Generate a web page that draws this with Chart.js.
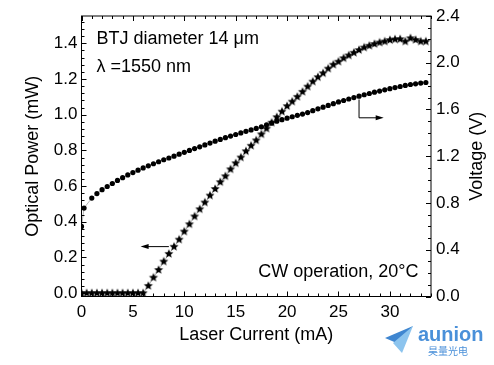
<!DOCTYPE html>
<html>
<head>
<script src="https://cdn.jsdelivr.net/npm/chart.js"></script>
<style>
  html, body { margin: 0; padding: 0; background: #fff; }
</style>
</head>
<body>
<canvas id="liv" width="494" height="365"></canvas>
<script>
// optical power (stars), every 0.5 mA
const currentP = [0, 0.5, 1, 1.5, 2, 2.5, 3, 3.5, 4, 4.5, 5, 5.5, 6, 6.5, 7, 7.5, 8, 8.5, 9, 9.5,
  10, 10.5, 11, 11.5, 12, 12.5, 13, 13.5, 14, 14.5, 15, 15.5, 16, 16.5, 17, 17.5, 18, 18.5, 19, 19.5,
  20, 20.5, 21, 21.5, 22, 22.5, 23, 23.5, 24, 24.5, 25, 25.5, 26, 26.5, 27, 27.5, 28, 28.5, 29, 29.5,
  30, 30.5, 31, 31.5, 32, 32.5, 33, 33.5];
const power = [0, 0, 0, 0, 0, 0, 0, 0, 0, 0, 0, 0, 0, 0.041, 0.087, 0.13, 0.177, 0.22, 0.26, 0.30,
  0.345, 0.386, 0.43, 0.47, 0.508, 0.547, 0.584, 0.622, 0.655, 0.694, 0.728, 0.76, 0.795, 0.826, 0.856, 0.89, 0.922, 0.955, 0.986, 1.017,
  1.048, 1.073, 1.10, 1.128, 1.157, 1.185, 1.21, 1.232, 1.258, 1.28, 1.297, 1.316, 1.332, 1.347, 1.362, 1.376, 1.386, 1.396, 1.404, 1.41,
  1.418, 1.422, 1.423, 1.41, 1.428, 1.419, 1.41, 1.41];

// voltage (circles)
const currentV = [0, 0.25, 1, 1.5, 2, 2.5, 3, 3.5, 4, 4.5, 5, 5.5, 6, 6.5, 7, 7.5, 8, 8.5, 9, 9.5,
  10, 10.5, 11, 11.5, 12, 12.5, 13, 13.5, 14, 14.5, 15, 15.5, 16, 16.5, 17, 17.5, 18, 18.5, 19, 19.5,
  20, 20.5, 21, 21.5, 22, 22.5, 23, 23.5, 24, 24.5, 25, 25.5, 26, 26.5, 27, 27.5, 28, 28.5, 29, 29.5,
  30, 30.5, 31, 31.5, 32, 32.5, 33, 33.5];
const voltage = [0.60, 0.757, 0.842, 0.881, 0.914, 0.941, 0.967, 0.993, 1.017, 1.04, 1.06, 1.081, 1.10, 1.118, 1.136, 1.153, 1.17, 1.185, 1.201, 1.218,
  1.234, 1.25, 1.266, 1.281, 1.297, 1.313, 1.329, 1.344, 1.359, 1.373, 1.386, 1.40, 1.413, 1.425, 1.438, 1.452, 1.468, 1.484, 1.50, 1.513,
  1.526, 1.538, 1.55, 1.561, 1.574, 1.59, 1.606, 1.62, 1.635, 1.65, 1.665, 1.677, 1.69, 1.702, 1.714, 1.726, 1.737, 1.748, 1.758, 1.768,
  1.778, 1.788, 1.797, 1.806, 1.814, 1.82, 1.826, 1.831];

const xTicks = [0, 5, 10, 15, 20, 25, 30];
const powerTicks = [0, 0.2, 0.4, 0.6, 0.8, 1.0, 1.2, 1.4];
const voltTicks = [0, 0.4, 0.8, 1.2, 1.6, 2.0, 2.4];

const FONT = 'Liberation Sans, Arial, sans-serif';
Chart.defaults.font.family = FONT;
Chart.defaults.color = '#000';

function makeStar(r) {
  const c = document.createElement('canvas');
  const s = Math.ceil(r * 2) + 2;
  c.width = c.height = s;
  const g = c.getContext('2d');
  g.beginPath();
  for (let k = 0; k < 10; k++) {
    const rad = k % 2 ? r * 0.45 : r;
    const a = -Math.PI / 2 + k * Math.PI / 5;
    g.lineTo(s / 2 + rad * Math.cos(a), s / 2 + rad * Math.sin(a));
  }
  g.closePath();
  g.fillStyle = '#000';
  g.fill();
  return c;
}
const star = makeStar(4.7);

function arrowHead(ctx, x, y, dir) {
  ctx.beginPath();
  ctx.moveTo(x, y);
  ctx.lineTo(x - dir * 8, y - 2.5);
  ctx.lineTo(x - dir * 8, y + 2.5);
  ctx.closePath();
  ctx.fill();
}

const decor = {
  id: 'decor',
  afterDraw(chart) {
    const ctx = chart.ctx;
    const a = chart.chartArea;
    const sx = chart.scales.x, sy = chart.scales.y, sv = chart.scales.y1;
    ctx.save();
    ctx.strokeStyle = '#000';
    ctx.fillStyle = '#000';
    ctx.lineWidth = 1;
    ctx.strokeRect(a.left, a.top, a.right - a.left, a.bottom - a.top);

    // inward ticks
    ctx.beginPath();
    for (let v = 0; v <= 34; v++) {
      const px = Math.round(sx.getPixelForValue(v)) + 0.5;
      const len = v % 5 === 0 ? 5 : 3;
      ctx.moveTo(px, a.bottom); ctx.lineTo(px, a.bottom - len);
      ctx.moveTo(px, a.top); ctx.lineTo(px, a.top + len);
    }
    for (let k = 0; k <= 38; k++) {
      const py = Math.round(sy.getPixelForValue(k * 0.04)) + 0.5;
      const len = k % 5 === 0 ? 5 : 3;
      ctx.moveTo(a.left, py); ctx.lineTo(a.left + len, py);
    }
    for (let k = 0; k <= 24; k++) {
      const py = Math.round(sv.getPixelForValue(k * 0.1)) + 0.5;
      const len = k % 4 === 0 ? 5 : 3;
      ctx.moveTo(a.right, py); ctx.lineTo(a.right - len, py);
    }
    ctx.stroke();

    // arrows
    const ly = sy.getPixelForValue(0.261);
    const lx0 = sx.getPixelForValue(8.5), lx1 = sx.getPixelForValue(5.75);
    ctx.beginPath(); ctx.moveTo(lx0, ly); ctx.lineTo(lx1 + 6, ly); ctx.stroke();
    arrowHead(ctx, lx1, ly, -1);
    const rx = sx.getPixelForValue(27), ry0 = sv.getPixelForValue(1.686), ry1 = sv.getPixelForValue(1.529);
    const rx1 = sx.getPixelForValue(29.4);
    ctx.beginPath(); ctx.moveTo(rx, ry0); ctx.lineTo(rx, ry1); ctx.lineTo(rx1 - 6, ry1); ctx.stroke();
    arrowHead(ctx, rx1, ry1, 1);

    // labels
    ctx.font = '18px ' + FONT;
    ctx.textBaseline = 'middle';
    ctx.textAlign = 'left';
    ctx.fillText('BTJ diameter 14 \u03bcm', a.left + 15, 39);
    ctx.fillText('\u03bb =1550 nm', a.left + 15, 67);
    ctx.textAlign = 'right';
    ctx.fillText('CW operation, 20\u00b0C', a.right - 12.5, 272);

    // right axis title
    ctx.save();
    ctx.translate(477, (a.top + a.bottom) / 2);
    ctx.rotate(-Math.PI / 2);
    ctx.textAlign = 'center';
    ctx.fillText('Voltage (V)', 0, 0);
    ctx.restore();

    // logo
    ctx.fillStyle = '#3f86d0';
    ctx.beginPath(); ctx.moveTo(385, 338); ctx.lineTo(413, 326); ctx.lineTo(399, 344); ctx.closePath(); ctx.fill();
    ctx.fillStyle = '#8cc4ee';
    ctx.beginPath(); ctx.moveTo(393, 343); ctx.lineTo(413, 326); ctx.lineTo(402, 353); ctx.closePath(); ctx.fill();
    ctx.fillStyle = '#4a90d9';
    ctx.textAlign = 'left';
    ctx.font = 'bold 20px ' + FONT;
    ctx.fillText('aunion', 418, 335);
    ctx.font = '10px "Noto Sans CJK SC"';
    ctx.fillText('\u660a\u91cf\u5149\u7535', 428, 351);
    ctx.restore();
  }
};

const noGrid = { display: false, drawTicks: false, tickLength: 0 };

new Chart(document.getElementById('liv'), {
  type: 'scatter',
  data: {
    datasets: [
      {
        label: 'Optical Power',
        data: currentP.map((x, i) => ({ x, y: power[i] })),
        yAxisID: 'y',
        showLine: true,
        borderColor: '#666',
        borderWidth: 0.5,
        pointStyle: star,
        pointRadius: 4,
        backgroundColor: '#000'
      },
      {
        label: 'Voltage',
        data: currentV.map((x, i) => ({ x, y: voltage[i] })),
        yAxisID: 'y1',
        showLine: true,
        borderColor: '#666',
        borderWidth: 0.5,
        pointStyle: 'circle',
        pointRadius: 2.6,
        pointBorderWidth: 0,
        pointBackgroundColor: '#000'
      }
    ]
  },
  options: {
    responsive: false,
    animation: false,
    devicePixelRatio: 1,
    layout: { padding: { top: 16, left: 0, right: 0, bottom: 0 } },
    plugins: { legend: { display: false }, tooltip: { enabled: false } },
    scales: {
      x: {
        type: 'linear', position: 'bottom', min: 0, max: 34,
        afterBuildTicks: s => { s.ticks = xTicks.map(v => ({ value: v })); },
        afterFit: s => { s.height = 68.5; },
        grid: noGrid, border: { display: false },
        ticks: { font: { size: 17 }, color: '#000', padding: 6, maxRotation: 0 },
        title: { display: true, text: 'Laser Current (mA)', font: { size: 18 }, color: '#000', padding: { top: 0, bottom: 19 } }
      },
      y: {
        position: 'left', min: -0.0185, max: 1.553,
        afterBuildTicks: s => { s.ticks = powerTicks.map(v => ({ value: v })); },
        afterFit: s => { s.width = 81.5; },
        grid: noGrid, border: { display: false },
        ticks: { font: { size: 17 }, color: '#000', padding: 4, callback: v => v.toFixed(1) },
        title: { display: true, text: 'Optical Power (mW)', font: { size: 18 }, color: '#000', padding: { top: 22, bottom: 0 } }
      },
      y1: {
        position: 'right', min: 0, max: 2.4,
        afterBuildTicks: s => { s.ticks = voltTicks.map(v => ({ value: v })); },
        afterFit: s => { s.width = 63; },
        grid: noGrid, border: { display: false },
        ticks: { font: { size: 17 }, color: '#000', padding: 5, callback: v => v.toFixed(1) }
      }
    }
  },
  plugins: [decor]
});
</script>
</body>
</html>
